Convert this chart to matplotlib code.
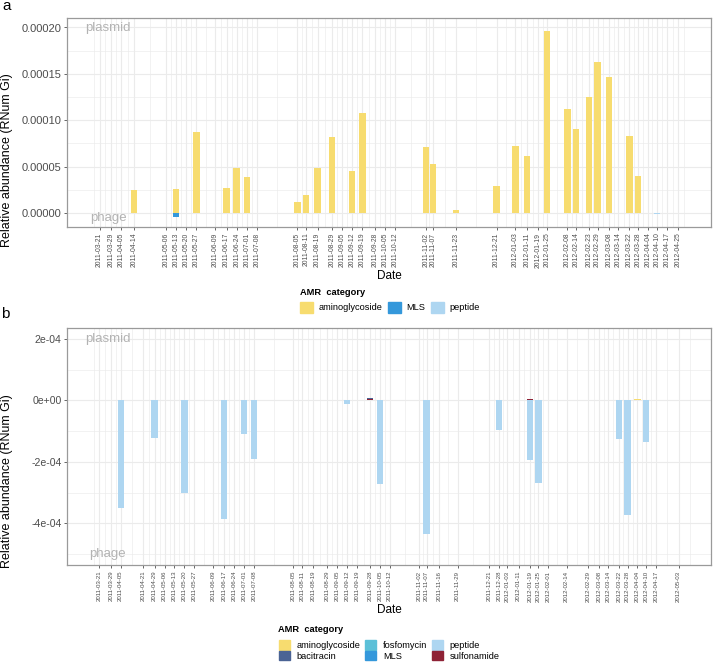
import matplotlib.pyplot as plt
from matplotlib.patches import Patch
import numpy as np
import datetime as dt

plt.rcParams['font.family'] = ['Liberation Sans', 'DejaVu Sans']

# sample dates on the x axis of each panel
dates_a = ["2011-03-21", "2011-03-29", "2011-04-05", "2011-04-14", "2011-05-06", "2011-05-13",
           "2011-05-20", "2011-05-27", "2011-06-09", "2011-06-17", "2011-06-24", "2011-07-01",
           "2011-07-08", "2011-08-05", "2011-08-11", "2011-08-19", "2011-08-29", "2011-09-05",
           "2011-09-12", "2011-09-19", "2011-09-28", "2011-10-05", "2011-10-12", "2011-11-02",
           "2011-11-07", "2011-11-23", "2011-12-21", "2012-01-03", "2012-01-11", "2012-01-19",
           "2012-01-25", "2012-02-08", "2012-02-14", "2012-02-23", "2012-02-29", "2012-03-08",
           "2012-03-14", "2012-03-22", "2012-03-28", "2012-04-04", "2012-04-10", "2012-04-17",
           "2012-04-25"]
dates_b = ["2011-03-21", "2011-03-29", "2011-04-05", "2011-04-21", "2011-04-29", "2011-05-06",
           "2011-05-13", "2011-05-20", "2011-05-27", "2011-06-09", "2011-06-17", "2011-06-24",
           "2011-07-01", "2011-07-08", "2011-08-05", "2011-08-11", "2011-08-19", "2011-08-29",
           "2011-09-05", "2011-09-12", "2011-09-19", "2011-09-28", "2011-10-05", "2011-10-12",
           "2011-11-02", "2011-11-07", "2011-11-16", "2011-11-29", "2011-12-21", "2011-12-28",
           "2012-01-03", "2012-01-11", "2012-01-19", "2012-01-25", "2012-02-01", "2012-02-14",
           "2012-02-29", "2012-03-08", "2012-03-14", "2012-03-22", "2012-03-28", "2012-04-04",
           "2012-04-10", "2012-04-17", "2012-05-03"]

# panel a: plasmid (+) / phage (-)
amino_a_dates = ["2011-04-14", "2011-05-13", "2011-05-27", "2011-06-17", "2011-06-24", "2011-07-01",
                 "2011-08-05", "2011-08-11", "2011-08-19", "2011-08-29", "2011-09-12", "2011-09-19",
                 "2011-11-02", "2011-11-07", "2011-11-23", "2011-12-21", "2012-01-03", "2012-01-11",
                 "2012-01-25", "2012-02-08", "2012-02-14", "2012-02-23", "2012-02-29", "2012-03-08",
                 "2012-03-22", "2012-03-28"]
amino_a = [2.46e-5, 2.6e-5, 8.77e-5, 2.64e-5, 4.87e-5, 3.83e-5,
           1.19e-5, 1.95e-5, 4.87e-5, 8.23e-5, 4.55e-5, 1.077e-4,
           7.14e-5, 5.27e-5, 3.5e-6, 2.89e-5, 7.25e-5, 6.14e-5,
           1.963e-4, 1.122e-4, 9.03e-5, 1.245e-4, 1.628e-4, 1.461e-4,
           8.33e-5, 3.97e-5]
mls_a_dates = ["2011-05-13"]
mls_a = [-4.5e-6]
pep_a_dates = ["2012-04-10"]
pep_a = [-1.2e-6]

# panel b
pep_b_dates = ["2011-04-05", "2011-04-29", "2011-05-20", "2011-06-17", "2011-07-01", "2011-07-08",
               "2011-09-12", "2011-10-05", "2011-11-07", "2011-12-28", "2012-01-19", "2012-01-25",
               "2012-03-22", "2012-03-28", "2012-04-10"]
pep_b = [-3.49e-4, -1.23e-4, -3.0e-4, -3.85e-4, -1.08e-4, -1.89e-4,
         -1.3e-5, -2.73e-4, -4.33e-4, -9.8e-5, -1.93e-4, -2.69e-4,
         -1.26e-4, -3.72e-4, -1.37e-4]
bac_b_dates = ["2011-09-28"]
bac_b = [4e-6]
sul_b_dates = ["2011-09-28", "2012-01-19", "2012-01-25"]
sul_b = [4e-6, 3e-6, 1.5e-6]
amino_b_dates = ["2012-04-04"]
amino_b = [4e-6]

categories = ["aminoglycoside", "bacitracin", "fosfomycin", "MLS", "peptide", "sulfonamide"]
colors = {"aminoglycoside": "#F7DC6F", "bacitracin": "#4A6394", "fosfomycin": "#5BC0D8",
          "MLS": "#3498DB", "peptide": "#AED6F1", "sulfonamide": "#8E2236"}

W, H = 713, 665


def d(s):
    return dt.datetime.strptime(s, "%Y-%m-%d")


def px_axes(fig, x0, y0, x1, y1):
    return fig.add_axes([x0 / W, 1 - y1 / H, (x1 - x0) / W, (y1 - y0) / H])


def draw_panel(ax, dates, series, ylim, yticks, yticklabels, yminor, phage_y, xfs, yfs):
    dd = [d(s) for s in dates]
    days = (dd[-1] - dd[0]).days
    pad = 2.25 + 0.05 * (days + 4.5)
    ax.set_xlim(dd[0] - dt.timedelta(days=pad), dd[-1] + dt.timedelta(days=pad))
    ax.set_ylim(*ylim)

    # stack: later categories sit closest to zero
    pos, neg = {}, {}
    for cat in reversed(categories):
        if cat not in series:
            continue
        ds, vals = series[cat]
        for s, v in zip(ds, vals):
            acc = pos if v >= 0 else neg
            b = acc.get(s, 0.0)
            ax.bar(d(s), v, width=4.5, bottom=b, color=colors[cat], linewidth=0, zorder=3)
            acc[s] = b + v

    ax.set_xticks(dd)
    ax.set_xticklabels(dates, rotation=90, fontsize=xfs, color="#4D4D4D")
    mids = [dd[i] + (dd[i + 1] - dd[i]) / 2 for i in range(len(dd) - 1)]
    mids = [dd[0] - (dd[1] - dd[0]) / 2] + mids + [dd[-1] + (dd[-1] - dd[-2]) / 2]
    ax.set_xticks(mids, minor=True)
    ax.set_yticks(yticks)
    ax.set_yticklabels(yticklabels, fontsize=yfs, color="#4D4D4D")
    ax.set_yticks(yminor, minor=True)

    ax.grid(which="major", color="#EBEBEB", linewidth=0.8, zorder=0)
    ax.grid(which="minor", color="#EBEBEB", linewidth=0.45, zorder=0)
    ax.set_axisbelow(True)
    ax.tick_params(which="major", length=2.5, width=0.6, color="#4D4D4D", pad=1.5)
    ax.tick_params(which="minor", length=0)
    for sp in ax.spines.values():
        sp.set_color("#9A9A9A")
        sp.set_linewidth(0.9)

    ax.set_xlabel("Date", fontsize=8.5, labelpad=1.5)
    xt = dd[0] + dt.timedelta(days=6)
    ax.text(xt, 2e-4, "plasmid", fontsize=9.5, color="#B3B3B3", ha="center", va="center", zorder=4)
    ax.text(xt, phage_y, "phage", fontsize=9.5, color="#B3B3B3", ha="center", va="center",
            zorder=4, clip_on=False)


fig = plt.figure(figsize=(W / 100, H / 100), dpi=100)

ax_a = px_axes(fig, 67, 18, 711, 227)
series_a = {"aminoglycoside": (amino_a_dates, amino_a), "MLS": (mls_a_dates, mls_a),
            "peptide": (pep_a_dates, pep_a)}
draw_panel(ax_a, dates_a, series_a, (-1.525e-5, 2.1025e-4),
           [0, 5e-5, 1e-4, 1.5e-4, 2e-4],
           ["0.00000", "0.00005", "0.00010", "0.00015", "0.00020"],
           [2.5e-5, 7.5e-5, 1.25e-4, 1.75e-4], -5e-6, 4.9, 8)
ax_a.set_ylabel("Relative abundance (RNum Gi)", fontsize=9)
ax_a.yaxis.set_label_coords((13 - 67) / 644, (227 - 160) / 209)

ax_b = px_axes(fig, 67, 328, 711, 565)
series_b = {"aminoglycoside": (amino_b_dates, amino_b), "bacitracin": (bac_b_dates, bac_b),
            "peptide": (pep_b_dates, pep_b), "sulfonamide": (sul_b_dates, sul_b)}
draw_panel(ax_b, dates_b, series_b, (-5.35e-4, 2.35e-4),
           [-4e-4, -2e-4, 0, 2e-4], ["-4e-04", "-2e-04", "0e+00", "2e-04"],
           [-5e-4, -3e-4, -1e-4, 1e-4], -5e-4, 4.4, 7.6)
ax_b.set_ylabel("Relative abundance (RNum Gi)", fontsize=9)
ax_b.yaxis.set_label_coords((13 - 67) / 644, (565 - 481) / 237)

# legends (title drawn separately so it can sit left-aligned above the keys)
legend_font = 6.7
cats_a = ["aminoglycoside", "MLS", "peptide"]
fig.text(300 / W, 1 - 293 / H, "AMR  category", fontsize=legend_font, fontweight="bold",
         ha="left", va="center")
fig.legend([Patch(color=colors[c]) for c in cats_a], cats_a,
           loc="upper left", bbox_to_anchor=(300 / W, 1 - 302 / H), ncol=3,
           frameon=False, fontsize=legend_font,
           handlelength=1.4, handleheight=1.4, handletextpad=0.55,
           columnspacing=0.65, labelspacing=0.1, borderpad=0, borderaxespad=0)

fig.text(278 / W, 1 - 630 / H, "AMR  category", fontsize=legend_font, fontweight="bold",
         ha="left", va="center")
fig.legend([Patch(color=colors[c]) for c in categories], categories,
           loc="upper left", bbox_to_anchor=(279 / W, 1 - 640 / H), ncol=3,
           frameon=False, fontsize=legend_font,
           handlelength=1.2, handleheight=1.2, handletextpad=0.7,
           columnspacing=0.5, labelspacing=0.1, borderpad=0, borderaxespad=0)

fig.text(2 / W, 1 - 6 / H, "a", fontsize=11, ha="left", va="center")
fig.text(1 / W, 1 - 314 / H, "b", fontsize=11, ha="left", va="center")

fig.savefig("out.png", dpi=100)
